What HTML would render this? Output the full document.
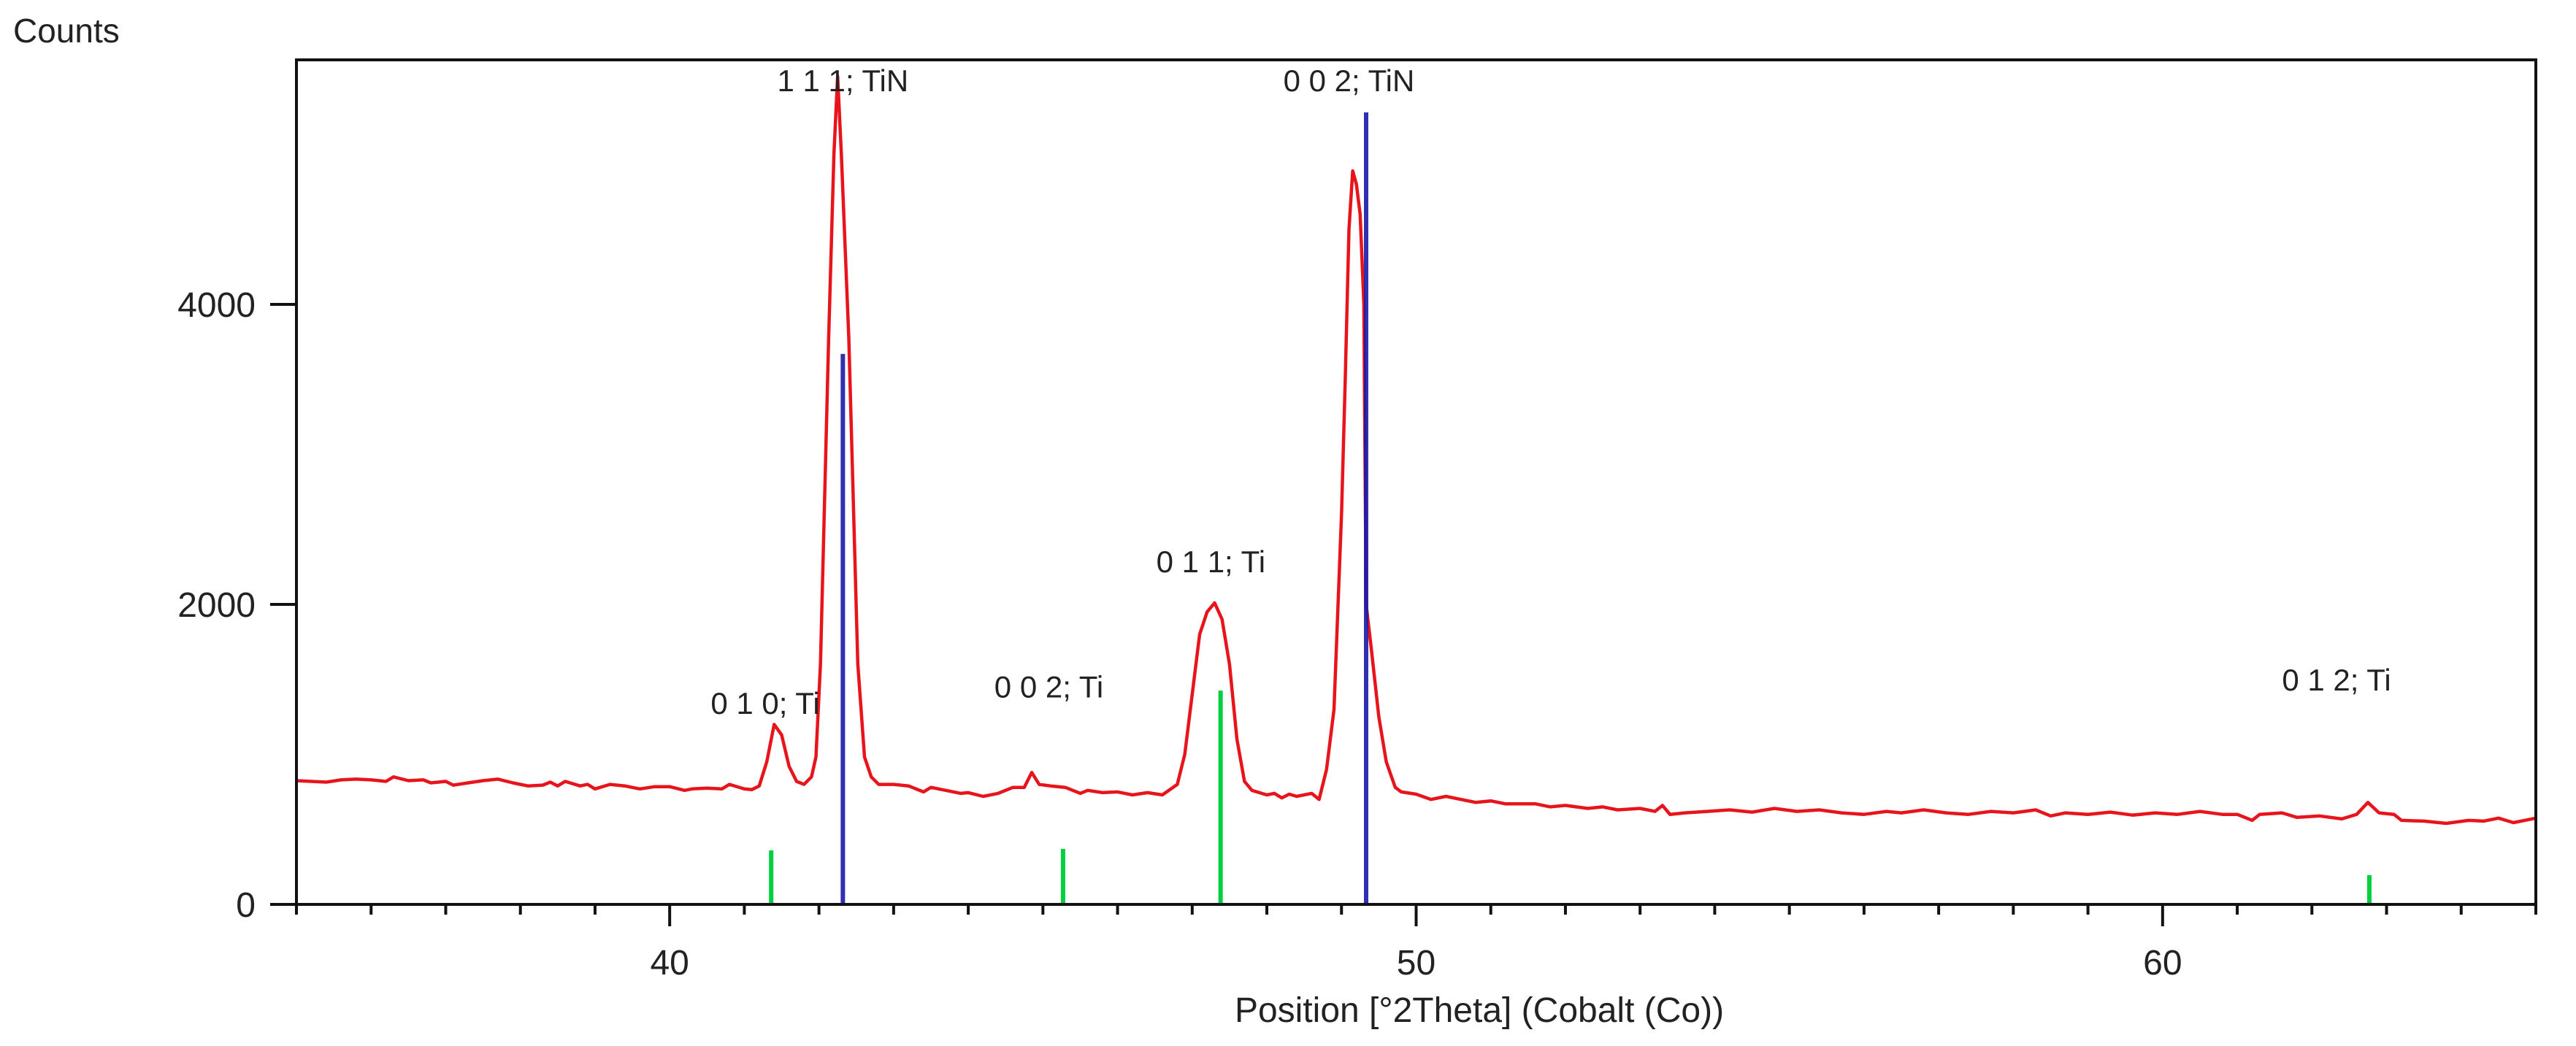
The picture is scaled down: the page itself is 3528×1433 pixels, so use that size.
<!DOCTYPE html>
<html><head><meta charset="utf-8">
<style>
html,body{margin:0;padding:0;background:#fff;}
svg{display:block;}
text{font-family:"Liberation Sans",sans-serif;fill:#222;}
</style></head>
<body>
<svg id="chart" width="3528" height="1433" viewBox="0 0 3528 1433" xmlns="http://www.w3.org/2000/svg">
<g id="plot"></g>
</svg>
<script>
const xTicksMajor = [40, 50, 60];
const yTicks = [0, 2000, 4000];
const yTickLabels = ["0", "2000", "4000"];
const scanTheta = [35.0,35.2,35.4,35.6,35.8,36.0,36.2,36.3,36.5,36.7,36.8,37.0,37.1,37.3,37.5,37.7,37.9,38.1,38.3,38.4,38.5,38.6,38.8,38.9,39.0,39.2,39.4,39.6,39.8,40.0,40.2,40.3,40.5,40.7,40.8,41.0,41.1,41.2,41.3,41.4,41.5,41.6,41.7,41.8,41.9,41.96,42.02,42.13,42.2,42.25,42.3,42.4,42.52,42.61,42.7,42.8,43.0,43.2,43.4,43.5,43.7,43.9,44.0,44.2,44.4,44.6,44.75,44.85,44.95,45.1,45.3,45.5,45.6,45.8,46.0,46.2,46.4,46.6,46.8,46.9,47.0,47.1,47.2,47.3,47.4,47.5,47.6,47.7,47.8,48.0,48.1,48.2,48.3,48.4,48.6,48.7,48.8,48.9,49.0,49.05,49.1,49.15,49.2,49.25,49.3,49.33,49.4,49.5,49.6,49.72,49.8,50.0,50.2,50.4,50.6,50.8,51.0,51.2,51.4,51.6,51.8,52.0,52.3,52.5,52.7,53.0,53.2,53.3,53.4,53.6,53.9,54.2,54.5,54.8,55.1,55.4,55.7,56.0,56.3,56.5,56.8,57.1,57.4,57.7,58.0,58.3,58.5,58.7,59.0,59.3,59.6,59.9,60.2,60.5,60.8,61.0,61.2,61.3,61.6,61.8,62.1,62.4,62.6,62.75,62.9,63.1,63.2,63.5,63.8,64.1,64.3,64.5,64.7,64.85,65.0];
const scanCounts = [825,820,815,830,835,830,820,850,825,830,810,820,795,810,825,835,810,790,795,815,790,820,790,800,770,800,790,770,785,785,760,770,775,770,800,770,765,790,950,1200,1130,920,820,800,850,983,1605,3775,5000,5520,5000,3775,1605,983,850,800,800,790,750,780,760,740,745,720,740,780,780,880,800,790,780,740,760,745,750,730,745,730,800,1000,1400,1800,1950,2010,1900,1600,1100,820,760,730,740,710,735,720,740,700,900,1300,2600,3500,4500,4890,4800,4600,4000,2000,1700,1250,950,780,750,735,700,720,700,680,690,670,670,670,650,660,640,650,630,640,620,660,600,610,620,630,615,640,620,630,610,600,620,610,630,610,600,620,610,630,590,610,600,615,595,610,600,620,600,600,560,600,610,580,590,570,600,680,610,600,560,555,540,560,555,575,545,560,575];
const refTiNTheta = [42.32, 49.33];
const refTiNCounts = [3670, 5280];
const refTiTheta = [41.36, 45.27, 47.38, 62.77];
const refTiCounts = [360, 370, 1425, 195];
const peakLabels = ["0 1 0; Ti","1 1 1; TiN","0 0 2; Ti","0 1 1; Ti","0 0 2; TiN","0 1 2; Ti"];
const peakLabelTheta = [41.28, 42.32, 45.08, 47.25, 49.1, 62.33];
const peakLabelCounts = [1270, 5420, 1380, 2215, 5420, 1425];

const X0=35, X1=65, PX0=406, PX1=3473, PY0=1239, PYT=82;
function xs(t){return PX0+(t-X0)*(PX1-PX0)/(X1-X0);}
function ys(v){return PY0-v*0.2055;}
const NS="http://www.w3.org/2000/svg";
const svg=document.getElementById('chart');
function mk(tag,attrs,parent){const e=document.createElementNS(NS,tag);for(const k in attrs)e.setAttribute(k,attrs[k]);(parent||svg).appendChild(e);return e;}

for(let i=0;i<refTiTheta.length;i++){
  const l=mk('line',{x1:xs(refTiTheta[i]),x2:xs(refTiTheta[i]),y1:PY0,y2:ys(refTiCounts[i]),stroke:'#00d040','stroke-width':6});
  
  
}
let d='';
for(let i=0;i<scanTheta.length;i++){d+=(i?'L':'M')+xs(scanTheta[i]).toFixed(1)+' '+ys(scanCounts[i]).toFixed(1);}
const p=mk('path',{d:d,fill:'none',stroke:'#e8141c','stroke-width':4.5,'stroke-linejoin':'round'});


for(let i=0;i<refTiNTheta.length;i++){
  const l=mk('line',{x1:xs(refTiNTheta[i]),x2:xs(refTiNTheta[i]),y1:PY0,y2:ys(refTiNCounts[i]),stroke:'#1a1aa8','stroke-width':6,'stroke-opacity':0.9});
  
  
}
const fr=mk('rect',{x:PX0,y:PYT,width:PX1-PX0,height:PY0-PYT,fill:'none',stroke:'#111','stroke-width':4});


for(let t=35;t<=65;t++){
  const major=xTicksMajor.indexOf(t)>=0;
  const tk=mk('line',{x1:xs(t),x2:xs(t),y1:PY0,y2:PY0+(major?30:14),stroke:'#111','stroke-width':4});
  
  
}
for(let i=0;i<xTicksMajor.length;i++){
  const tx=mk('text',{x:xs(xTicksMajor[i]),y:1335,'font-size':48,'text-anchor':'middle'});
  tx.textContent=String(xTicksMajor[i]);
  
  
}
for(let i=0;i<yTicks.length;i++){
  const tk=mk('line',{x1:370,x2:PX0,y1:ys(yTicks[i]),y2:ys(yTicks[i]),stroke:'#111','stroke-width':4});
  
  
  const tx=mk('text',{x:350,y:ys(yTicks[i])+17,'font-size':48,'text-anchor':'end'});
  tx.textContent=yTickLabels[i];
  
  
}
for(let i=0;i<peakLabels.length;i++){
  const tx=mk('text',{x:xs(peakLabelTheta[i]),y:ys(peakLabelCounts[i]),'font-size':42,'text-anchor':'middle'});
  tx.textContent=peakLabels[i];
  
  
}
const yt=mk('text',{x:18,y:58,'font-size':46});
yt.textContent='Counts';


const xt=mk('text',{x:2026,y:1400,'font-size':48,'text-anchor':'middle'});
xt.textContent='Position [°2Theta] (Cobalt (Co))';


</script>
</body></html>
